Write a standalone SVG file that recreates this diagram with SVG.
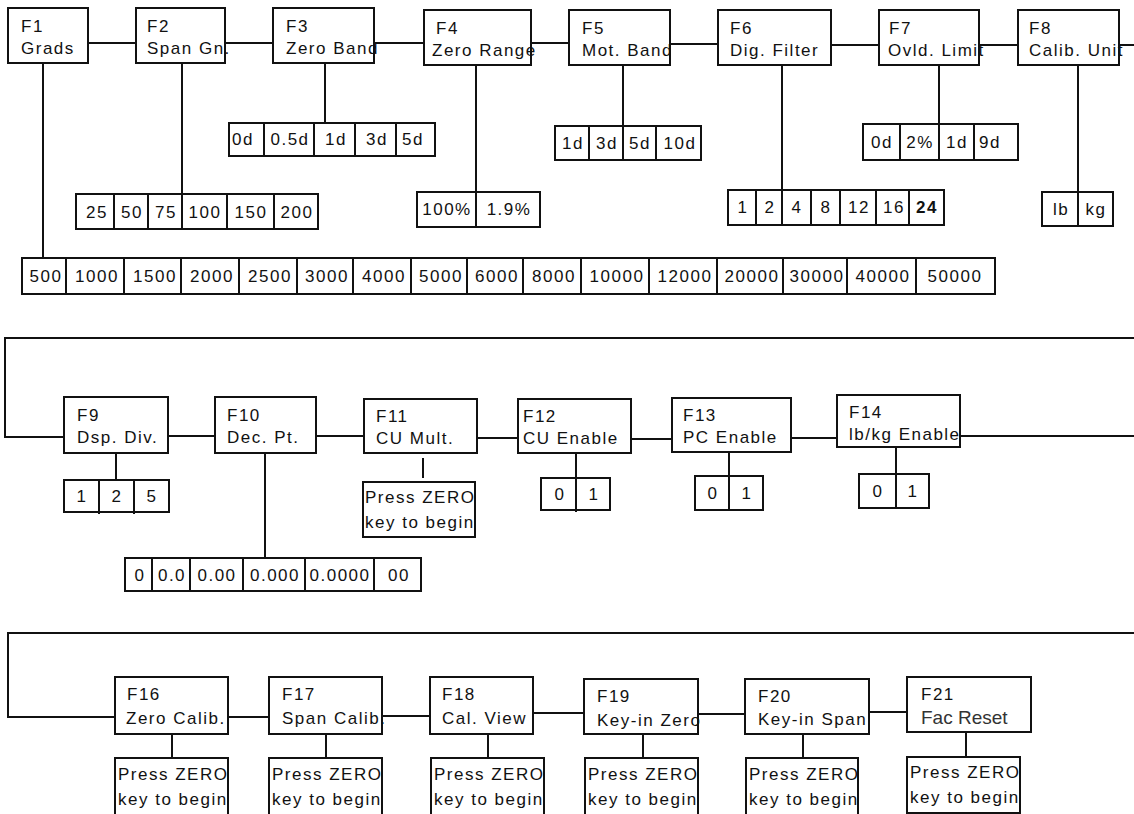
<svg xmlns="http://www.w3.org/2000/svg" width="1134" height="814" viewBox="0 0 1134 814">
<style>
.b{fill:#fff;stroke:#111;stroke-width:2}
.ln{stroke:#111;stroke-width:2;fill:none}
.t{font-family:"Liberation Sans",Arial,sans-serif;font-size:17px;letter-spacing:1.5px;fill:#111}
.c{text-anchor:middle}
.fr{font-family:"Liberation Sans",Arial,sans-serif;font-size:19px;fill:#333}
</style>
<rect width="1134" height="814" fill="#fff"/>
<g id="connectors" class="ln">
<path d="M88,43H136M225,43H273M374,43H424M531,43H569M670,44H718M831,45H879M979,45H1018M1119,45H1134"/>
<path d="M43,63V258M182,63V194M325,63V123M476,65V192M623,65V126M782,65V190M939,65V124M1078,65V192"/>
<path d="M1134,338H5V437H64M168,436H215M316,436H364M477,438H518M631,439H672M791,438H837M960,436H1134"/>
<path d="M116,453V480M265,453V558M423,458V478M576,453V512M729,452V476M896,447V474"/>
<path d="M1134,633H8V717H115M228,717H269M382,716H430M533,713H584M698,714H745M869,712H907"/>
<path d="M172,734V758M326,734V758M488,734V758M643,734V758M803,734V758M966,732V757"/>
</g>
<g id="F1"><rect class="b" x="8" y="8" width="80" height="55"/><text class="t" x="21" y="32">F1</text><text class="t" x="21" y="54">Grads</text></g>
<g id="F2"><rect class="b" x="136" y="8" width="89" height="55"/><text class="t" x="147" y="32">F2</text><text class="t" x="147" y="54">Span Gn.</text></g>
<g id="F3"><rect class="b" x="273" y="8" width="101" height="55"/><text class="t" x="286" y="32">F3</text><text class="t" x="286" y="54">Zero Band</text></g>
<g id="F4"><rect class="b" x="424" y="10" width="107" height="55"/><text class="t" x="436" y="34">F4</text><text class="t" x="432" y="56">Zero Range</text></g>
<g id="F5"><rect class="b" x="569" y="10" width="101" height="55"/><text class="t" x="582" y="34">F5</text><text class="t" x="582" y="56">Mot. Band</text></g>
<g id="F6"><rect class="b" x="718" y="10" width="113" height="55"/><text class="t" x="730" y="34">F6</text><text class="t" x="730" y="56">Dig. Filter</text></g>
<g id="F7"><rect class="b" x="879" y="10" width="100" height="55"/><text class="t" x="889" y="34">F7</text><text class="t" x="888" y="56">Ovld. Limit</text></g>
<g id="F8"><rect class="b" x="1018" y="10" width="101" height="55"/><text class="t" x="1029" y="34">F8</text><text class="t" x="1029" y="56">Calib. Unit</text></g>

<g id="F1-options"><rect class="b" x="22" y="258" width="973" height="36"/>
<path class="ln" d="M66,258V294M124,258V294M181,258V294M239,258V294M297,258V294M353,258V294M411,258V294M467,258V294M523,258V294M581,258V294M649,258V294M717,258V294M783,258V294M847,258V294M916,258V294"/>
<g class="t c"><text x="46" y="282">500</text><text x="97" y="282">1000</text><text x="155" y="282">1500</text><text x="212" y="282">2000</text><text x="270" y="282">2500</text><text x="327" y="282">3000</text><text x="384" y="282">4000</text><text x="441" y="282">5000</text><text x="497" y="282">6000</text><text x="554" y="282">8000</text><text x="617" y="282">10000</text><text x="685" y="282">12000</text><text x="752" y="282">20000</text><text x="817" y="282">30000</text><text x="883" y="282">40000</text><text x="955" y="282">50000</text></g></g>
<g id="F2-options"><rect class="b" x="76" y="194" width="242" height="35"/>
<path class="ln" d="M114,194V229M148,194V229M182,194V229M227,194V229M274,194V229"/>
<g class="t c"><text x="97" y="218">25</text><text x="132" y="218">50</text><text x="166" y="218">75</text><text x="205" y="218">100</text><text x="251" y="218">150</text><text x="297" y="218">200</text></g></g>
<g id="F3-options"><rect class="b" x="229" y="123" width="206" height="33"/>
<path class="ln" d="M264,123V156M314,123V156M355,123V156M396,123V156"/>
<g class="t c"><text x="243" y="145">0d</text><text x="290" y="145">0.5d</text><text x="336" y="145">1d</text><text x="377" y="145">3d</text><text x="413" y="145">5d</text></g></g>
<g id="F4-options"><rect class="b" x="417" y="192" width="123" height="35"/>
<path class="ln" d="M476,192V227"/>
<g class="t c"><text x="447" y="215">100%</text><text x="509" y="215">1.9%</text></g></g>
<g id="F5-options"><rect class="b" x="555" y="126" width="146" height="34"/>
<path class="ln" d="M589,126V160M623,126V160M656,126V160"/>
<g class="t c"><text x="573" y="149">1d</text><text x="607" y="149">3d</text><text x="640" y="149">5d</text><text x="680" y="149">10d</text></g></g>
<g id="F6-options"><rect class="b" x="728" y="190" width="216" height="35"/>
<path class="ln" d="M756,190V225M782,190V225M811,190V225M840,190V225M876,190V225M909,190V225"/>
<g class="t c"><text x="743" y="213">1</text><text x="770" y="213">2</text><text x="797" y="213">4</text><text x="826" y="213">8</text><text x="859" y="213">12</text><text x="894" y="213">16</text><text x="927" y="213" font-weight="bold">24</text></g></g>
<g id="F7-options"><rect class="b" x="863" y="124" width="155" height="36"/>
<path class="ln" d="M900,124V160M939,124V160M974,124V160"/>
<g class="t c"><text x="882" y="148">0d</text><text x="920" y="148">2%</text><text x="957" y="148">1d</text><text x="990" y="148">9d</text></g></g>
<g id="F8-options"><rect class="b" x="1042" y="192" width="71" height="34"/>
<path class="ln" d="M1078,192V226"/>
<g class="t c"><text x="1061" y="215">lb</text><text x="1096" y="215">kg</text></g></g>

<g id="F9"><rect class="b" x="64" y="397" width="104" height="56"/><text class="t" x="77" y="421">F9</text><text class="t" x="77" y="443">Dsp. Div.</text></g>
<g id="F10"><rect class="b" x="215" y="397" width="101" height="56"/><text class="t" x="227" y="421">F10</text><text class="t" x="227" y="443">Dec. Pt.</text></g>
<g id="F11"><rect class="b" x="364" y="399" width="113" height="54"/><text class="t" x="376" y="422">F11</text><text class="t" x="376" y="444">CU Mult.</text></g>
<g id="F12"><rect class="b" x="518" y="399" width="113" height="54"/><text class="t" x="523" y="422">F12</text><text class="t" x="523" y="444">CU Enable</text></g>
<g id="F13"><rect class="b" x="672" y="398" width="119" height="54"/><text class="t" x="683" y="421">F13</text><text class="t" x="683" y="443">PC Enable</text></g>
<g id="F14"><rect class="b" x="837" y="395" width="123" height="52"/><text class="t" x="849" y="418">F14</text><text class="t" x="849" y="440">lb/kg Enable</text></g>

<g id="F9-options"><rect class="b" x="64" y="480" width="105" height="32"/>
<path class="ln" d="M99,480V514M134,480V514"/>
<g class="t c"><text x="82" y="502">1</text><text x="117" y="502">2</text><text x="152" y="502">5</text></g></g>
<g id="F10-options"><rect class="b" x="125" y="558" width="296" height="33"/>
<path class="ln" d="M152,558V591M190,558V591M243,558V591M305,558V591M374,558V591"/>
<g class="t c"><text x="140" y="581">0</text><text x="172" y="581">0.0</text><text x="217" y="581">0.00</text><text x="275" y="581">0.000</text><text x="340" y="581">0.0000</text><text x="399" y="581">00</text></g></g>
<g id="F11-action"><rect class="b" x="363" y="482" width="112" height="55"/><text class="t" x="365" y="503">Press ZERO</text><text class="t" x="365" y="528">key to begin</text></g>
<g id="F12-options"><rect class="b" x="541" y="478" width="69" height="32"/>
<path class="ln" d="M576,478V512"/>
<g class="t c"><text x="560" y="500">0</text><text x="594" y="500">1</text></g></g>
<g id="F13-options"><rect class="b" x="695" y="476" width="68" height="34"/>
<path class="ln" d="M729,476V510"/>
<g class="t c"><text x="713" y="499">0</text><text x="747" y="499">1</text></g></g>
<g id="F14-options"><rect class="b" x="859" y="474" width="70" height="34"/>
<path class="ln" d="M896,474V508"/>
<g class="t c"><text x="878" y="497">0</text><text x="913" y="497">1</text></g></g>

<g id="F16"><rect class="b" x="115" y="677" width="113" height="57"/><text class="t" x="127" y="700">F16</text><text class="t" x="126" y="724">Zero Calib.</text></g>
<g id="F17"><rect class="b" x="269" y="677" width="113" height="57"/><text class="t" x="282" y="700">F17</text><text class="t" x="282" y="724">Span Calib.</text></g>
<g id="F18"><rect class="b" x="430" y="677" width="103" height="57"/><text class="t" x="442" y="700">F18</text><text class="t" x="442" y="724">Cal. View</text></g>
<g id="F19"><rect class="b" x="584" y="679" width="114" height="55"/><text class="t" x="597" y="702">F19</text><text class="t" x="597" y="726">Key-in Zero</text></g>
<g id="F20"><rect class="b" x="745" y="679" width="124" height="55"/><text class="t" x="758" y="702">F20</text><text class="t" x="758" y="725">Key-in Span</text></g>
<g id="F21"><rect class="b" x="907" y="677" width="124" height="55"/><text class="t" x="921" y="700">F21</text><text class="fr" x="921" y="724">Fac Reset</text></g>

<g id="F16-action"><rect class="b" x="115" y="758" width="113" height="57"/><text class="t" x="118" y="780">Press ZERO</text><text class="t" x="118" y="805">key to begin</text></g>
<g id="F17-action"><rect class="b" x="269" y="758" width="113" height="57"/><text class="t" x="272" y="780">Press ZERO</text><text class="t" x="272" y="805">key to begin</text></g>
<g id="F18-action"><rect class="b" x="431" y="758" width="113" height="57"/><text class="t" x="434" y="780">Press ZERO</text><text class="t" x="434" y="805">key to begin</text></g>
<g id="F19-action"><rect class="b" x="585" y="758" width="113" height="57"/><text class="t" x="588" y="780">Press ZERO</text><text class="t" x="588" y="805">key to begin</text></g>
<g id="F20-action"><rect class="b" x="746" y="758" width="112" height="57"/><text class="t" x="749" y="780">Press ZERO</text><text class="t" x="749" y="805">key to begin</text></g>
<g id="F21-action"><rect class="b" x="907" y="757" width="113" height="56"/><text class="t" x="910" y="778">Press ZERO</text><text class="t" x="910" y="803">key to begin</text></g>
</svg>
